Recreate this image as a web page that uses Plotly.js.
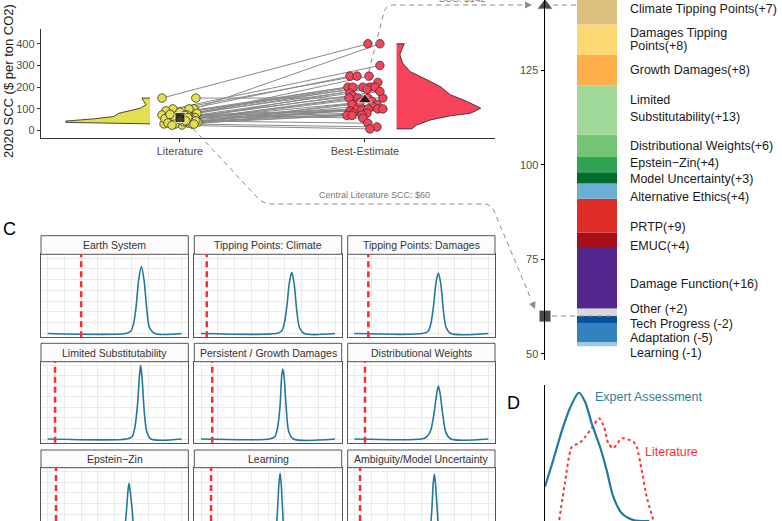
<!DOCTYPE html>
<html><head><meta charset="utf-8">
<script src="https://cdn.plot.ly/plotly-3.0.1.min.js"></script>
<style>html,body{margin:0;padding:0;background:#fff}#chart{width:782px;height:521px}</style>
</head><body><div id="chart"></div>
<script>
// ================= DATA =================
// Panel A: literature vs best-estimate SCC (paired)
const categories = ['Literature', 'Best-Estimate'];
const litSCC  = [150,100,150,100,100,91,80,72,72,70,72,85,60,65,55,52,55,52,45,40,40,35,31,26,30,60,70,50,45,65,55,40,35,30,60,75,45,30,25,50];
const litJitter = [-0.097,0.076,0.086,-0.038,0.049,-0.076,0.092,-0.097,-0.049,-0.016,0.038,0,0.081,-0.065,0.016,-0.07,-0.038,0.065,-0.016,-0.049,0.097,0.043,-0.086,0.011,0.065,-0.027,0.027,0.054,0.086,0.011,-0.081,0.022,-0.065,-0.027,0.043,-0.054,0.032,0.076,-0.043,0];
const bestSCC = [400,400,150,300,251,251,251,222,200,200,200,200,200,190,180,172,160,150,150,150,135,120,120,110,100,100,100,100,100,90,80,80,72,70,70,57,34,17,8,130];
const bestJitter = [0.016,0.081,0.097,0.081,-0.081,-0.043,0.022,0.07,-0.092,-0.065,-0.011,0.027,0.054,0.011,0.081,-0.081,-0.065,-0.086,-0.038,0.016,0.038,-0.07,0.065,0.043,-0.043,-0.016,0.016,0.07,0.097,-0.081,-0.065,0.011,-0.016,-0.097,-0.07,-0.011,0.016,0.065,0.027,-0.027];
const litCentral = 60;
const bestCentral = 142;
const litViolinSCC = [150,139,119,103,91,80,65,54,44,38,31];
const litViolinDensity = [0.094,0.082,0.047,0.118,0.27,0.37,0.43,0.67,1.0,1.0,0.0];
const bestViolinSCC = [400,372,349,311,272,242,203,165,134,103,80,68,49,26,11,8];
const bestViolinDensity = [0.092,0.06,0.04,0.072,0.16,0.32,0.52,0.64,0.84,1.0,0.88,0.64,0.40,0.24,0.18,0.18];

// Panel B: decomposition (bottom-up positives, then top-down negatives)
const posLabels = ['Other (+2)','Damage Function(+16)','EMUC(+4)','PRTP(+9)','Alternative Ethics(+4)','Model Uncertainty(+3)','Epstein\u2212Zin(+4)','Distributional Weights(+6)','Limited\nSubstitutability(+13)','Growth Damages(+8)','Damages Tipping\nPoints(+8)','Climate Tipping Points(+7)'];
const posValues = [2,16,4,9,4,3,4,6,13,8,8,7];
const negLabels = ['Tech Progress (-2)','Adaptation (-5)','Learning (-1)'];
const negValues = [-2,-5,-1];
const bTicks = [50,75,100,125];

// Panel C: facets
const facetNames = ['Earth System','Tipping Points: Climate','Tipping Points: Damages','Limited Substitutability','Persistent / Growth Damages','Distributional Weights','Epstein\u2212Zin','Learning','Ambiguity/Model Uncertainty'];
const facetLiterature = [25,4.3,10.4,5.5,8.4,7.9,6.2,7.5,4.2];
const densityX = [
  [0,58,62,64,66,68,70,72,74,76,80,100],
  [0,56,60,62,64,66,67.7,69.5,71.5,73.5,77,100],
  [0,51,55,57,59,61,62.7,64.5,66.5,68.5,72,100],
  [0,59,63,65,67,68.5,69.4,70.5,72,74,77,100],
  [0,51,55,57,59,60.2,61,62,63.5,65.5,69,100],
  [0,50,54,57,59.5,61.5,62.7,64,66,68.5,72,100],
  [0,50,54,56.5,58.5,60,60.7,61.5,63,65,68,100],
  [0,50,53,55.5,57,58.2,59,59.8,61,62.5,66,100],
  [0,50,53.5,56,57.7,58.9,59.7,60.5,62,63.8,67,100]
];
const densityY = [
  [0,0,3,12,35,72,88.6,70,32,8,0,0],
  [0,0,3,12,35,68,81,66,30,8,0,0],
  [0,0,3,12,35,68,80,66,30,8,0,0],
  [0,0,3,15,45,85,100,82,40,10,0,0],
  [0,0,3,14,45,85,95,85,45,10,0,0],
  [0,0,3,12,35,62,72,62,33,8,0,0],
  [0,0,3,12,40,75,84,75,50,12,0,0],
  [0,0,3,14,45,85,97.5,85,45,10,0,0],
  [0,0,3,14,45,85,96,85,45,10,0,0]
];

// Panel D: distributions
const expertX = [0,3.5,7.0,10.5,14.3,16.9,19.7,23.2,26.0,28.8,32.4,37.3,44];
const expertY = [25.2,44.9,65.7,82.9,94.3,87.7,71.8,54.6,37.5,17.9,5.7,0.7,0];
const litDensX = [6.0,8.4,11.3,14.8,16.9,19.7,22.8,24.9,26.7,28.8,32.4,37.3,38.7,40.8,42.9,45.7];
const litDensY = [0.7,27.7,54.6,57.6,61.8,68.2,75.5,69.3,57.1,53.5,60.8,58.3,54.6,37.5,17.9,0.7];

// ================= STYLE / LAYOUT =================
const W = 782, H = 521;
const px = p => p / W;
const py = p => 1 - p / H;
const P = (x, y) => px(x) + ',' + py(y);
const FONT = 'Liberation Sans, Arial, Helvetica, sans-serif';
const TICKC = '#4d4d4d';
const YEL = '#e3df4f', RED = '#f7435a';

const traces = [];
const shapes = [];
const annotations = [];
const layout = {
  width: W, height: H, margin: {l:0, r:0, t:0, b:0, pad:0},
  paper_bgcolor: '#fff', plot_bgcolor: 'rgba(0,0,0,0)',
  showlegend: false, barmode: 'overlay', font: {family: FONT, color: '#222'},
  shapes: shapes, annotations: annotations
};
function note(o) {
  annotations.push(Object.assign({xref:'paper', yref:'paper', showarrow:false,
    xanchor:'center', yanchor:'middle'}, o));
}

// ---------- Panel A ----------
layout.xaxis = {domain:[px(41), px(495)], range:[0.249, 2.703], anchor:'y',
  tickvals:[1,2], ticktext:categories, showline:true, linecolor:'#333', linewidth:1.2,
  ticks:'outside', ticklen:3, tickcolor:'#333', tickfont:{size:11, color:TICKC},
  showgrid:false, zeroline:false, fixedrange:true};
layout.yaxis = {domain:[py(138), py(29)], range:[-34, 468], anchor:'x',
  tickvals:[0,100,200,300,400], showline:true, linecolor:'#333', linewidth:1.2,
  ticks:'outside', ticklen:3, tickcolor:'#333', tickfont:{size:11, color:TICKC},
  showgrid:false, zeroline:false, fixedrange:true};

const litBase = 0.838, bestBase = 2.171, densScale = 0.455;
traces.push({type:'scatter', mode:'lines', xaxis:'x', yaxis:'y',
  x:[litBase].concat(litViolinDensity.map(d => litBase - d*densScale)),
  y:[litViolinSCC[0]].concat(litViolinSCC),
  fill:'toself', fillcolor:YEL, line:{color:'#333', width:0.9}, hoverinfo:'skip'});
traces.push({type:'scatter', mode:'lines', xaxis:'x', yaxis:'y',
  x:[bestBase].concat(bestViolinDensity.map(d => bestBase + d*densScale), [bestBase]),
  y:[bestViolinSCC[0]].concat(bestViolinSCC, [bestViolinSCC[bestViolinSCC.length-1]]),
  fill:'toself', fillcolor:RED, line:{color:'#333', width:0.9}, hoverinfo:'skip'});

const lx = [], ly = [];
for (let i = 0; i < litSCC.length; i++) {
  lx.push(1 + litJitter[i], 2 + bestJitter[i], null);
  ly.push(litSCC[i], bestSCC[i], null);
}
traces.push({type:'scatter', mode:'lines', x:lx, y:ly, xaxis:'x', yaxis:'y',
  line:{color:'#8a8a8a', width:1}, hoverinfo:'skip'});
traces.push({type:'scatter', mode:'markers', xaxis:'x', yaxis:'y',
  x:litJitter.map(j => 1 + j), y:litSCC,
  marker:{color:YEL, size:8.5, line:{color:'#333', width:0.8}}, cliponaxis:false});
traces.push({type:'scatter', mode:'markers', xaxis:'x', yaxis:'y',
  x:bestJitter.map(j => 2 + j), y:bestSCC,
  marker:{color:RED, size:8.5, line:{color:'#333', width:0.8}}, cliponaxis:false});
traces.push({type:'scatter', mode:'markers', xaxis:'x', yaxis:'y',
  x:[1, 2], y:[litCentral, bestCentral],
  marker:{color:'#000', symbol:['square','triangle-up'], size:[10,12]}, cliponaxis:false});

note({x:px(9), y:py(81), text:'2020 SCC ($ per ton CO2)', textangle:-90,
  font:{size:13, color:'#1a1a1a'}});

// ---------- Panel B ----------
layout.xaxis2 = {domain:[px(545), 1], range:[0,1], anchor:'y2', visible:false, fixedrange:true};
layout.yaxis2 = {domain:[py(360), 1], range:[48.4, 143.5], anchor:'x2',
  tickvals:bTicks, showline:true, linecolor:'#000', linewidth:1.5,
  ticks:'outside', ticklen:3, tickcolor:'#000', tickfont:{size:11, color:TICKC},
  showgrid:false, zeroline:false, fixedrange:true};

const posColors = ['#d9d9d9','#54278f','#a50f15','#de2d26','#6baed6','#006d2c','#31a354','#74c476','#a1d99b','#fdae4b','#fdd874','#dcc07f'];
const negColors = ['#08519c','#3182bd','#9ecae1'];
const posNudge = [-3, 5.3, 5.7, 11, 5.7, 1, -1.7, 0, -1.2, 0, -0.5, -2];
const posLineGap = [0,0,0,0,0,0,0,0,17.3,0,12.5,0];
const negNudge = [4, 5, 8.7];
const barX = 0.2194, barW = 0.1688, labelX = px(628);

function addLabel(text, yVal, nudge, gap) {
  const lines = text.split('\n');
  const n = lines.length;
  lines.forEach((ln, k) => {
    const off = nudge + (k - (n - 1) / 2) * gap;
    annotations.push({xref:'paper', yref:'y2', x:labelX, y:yVal, yshift:-off,
      xanchor:'left', yanchor:'middle', text:ln, showarrow:false,
      font:{size:12.5, color:'#1a1a1a'}});
  });
}
let cum = litCentral;
posValues.forEach((v, i) => {
  traces.push({type:'bar', xaxis:'x2', yaxis:'y2', x:[barX], y:[v], base:[cum], width:barW,
    marker:{color:posColors[i], line:{width:0}}, hoverinfo:'skip'});
  addLabel(posLabels[i], cum + v / 2, posNudge[i], posLineGap[i]);
  cum += v;
});
let ncum = litCentral;
negValues.forEach((v, i) => {
  traces.push({type:'bar', xaxis:'x2', yaxis:'y2', x:[barX], y:[v], base:[ncum], width:barW,
    marker:{color:negColors[i], line:{width:0}}, hoverinfo:'skip'});
  addLabel(negLabels[i], ncum + v / 2, negNudge[i], 0);
  ncum += v;
});
traces.push({type:'scatter', mode:'markers', xaxis:'x2', yaxis:'y2',
  x:[0, 0], y:[bestCentral, litCentral],
  marker:{color:'#000', symbol:['triangle-up','square'], size:[14,12]}, cliponaxis:false});

// ---------- Connectors ----------
const dashLine = {color:'#8c8c8c', width:1, dash:'5px,4px'};
shapes.push({type:'path', xref:'paper', yref:'paper', line:dashLine,
  path:'M ' + P(362,98) + ' L ' + P(384,12) + ' Q ' + P(386,5) + ' ' + P(394,5) + ' L ' + P(527,5)});
shapes.push({type:'path', xref:'paper', yref:'paper', line:dashLine,
  path:'M ' + P(553,5) + ' L ' + P(577,5)});
shapes.push({type:'path', xref:'paper', yref:'paper', line:dashLine,
  path:'M ' + P(187,122) + ' L ' + P(256,196) + ' Q ' + P(262,204) + ' ' + P(272,204) + ' L ' + P(484,204) + ' Q ' + P(491,204) + ' ' + P(494,211) + ' L ' + P(531,299)});
shapes.push({type:'path', xref:'paper', yref:'paper', line:dashLine,
  path:'M ' + P(552,316) + ' L ' + P(617,316)});
annotations.push({xref:'paper', yref:'paper', x:px(532), y:py(5), ax:-8, ay:0, text:'',
  showarrow:true, arrowhead:2, arrowsize:1.4, arrowwidth:1, arrowcolor:'#8c8c8c', standoff:0});
annotations.push({xref:'paper', yref:'paper', x:px(535), y:py(309), ax:-3.1, ay:-7.4, text:'',
  showarrow:true, arrowhead:2, arrowsize:1.4, arrowwidth:1, arrowcolor:'#8c8c8c', standoff:0});
note({x:px(462), y:py(-1), text:'SCC: $142', font:{size:9.5, color:'#777'}});
note({x:px(374), y:py(195), text:'Central Literature SCC: $60', font:{size:9, color:'#777'}});

// ---------- Panel C ----------
note({x:px(9), y:py(229), text:'C', font:{size:18, color:'#000'}});
const cols = [[41,188.3],[194.3,341.7],[347.7,495]];
const rows = [
  {strip:[235.7,254.3], panel:[254.3,337.3], yr:[-5,105]},
  {strip:[343.3,361.7], panel:[361.7,442.7], yr:[-5,105]},
  {strip:[450,467.7],   panel:[467.7,521],   yr:[33.5,105]}
];
facetNames.forEach((name, k) => {
  const c = cols[k % 3], r = rows[Math.floor(k / 3)];
  const n = k + 3;
  layout['xaxis' + n] = {domain:[px(c[0]), px(c[1])], range:[-5,105], anchor:'y' + n,
    showline:true, mirror:true, linecolor:'#555', linewidth:1,
    showgrid:true, gridcolor:'#ebebeb', gridwidth:1, tick0:0, dtick:12.5,
    ticks:'', showticklabels:false, zeroline:false, fixedrange:true};
  layout['yaxis' + n] = {domain:[py(r.panel[1]), py(r.panel[0])], range:r.yr, anchor:'x' + n,
    showline:true, mirror:true, linecolor:'#555', linewidth:1,
    showgrid:true, gridcolor:'#ebebeb', gridwidth:1, tick0:0, dtick:100/7,
    ticks:'', showticklabels:false, zeroline:false, fixedrange:true};
  shapes.push({type:'rect', xref:'paper', yref:'paper', x0:px(c[0]), x1:px(c[1]),
    y0:py(r.strip[1]), y1:py(r.strip[0]), fillcolor:'#fbfbfb', line:{color:'#555', width:1}});
  note({x:px((c[0] + c[1]) / 2), y:py((r.strip[0] + r.strip[1]) / 2),
    text:name, font:{size:10.5, color:'#333'}});
  traces.push({type:'scatter', mode:'lines', xaxis:'x' + n, yaxis:'y' + n,
    x:densityX[k], y:densityY[k], line:{color:'#23789c', width:1.6, shape:'spline', smoothing:0.8},
    hoverinfo:'skip'});
  shapes.push({type:'line', xref:'x' + n, yref:'y' + n + ' domain',
    x0:facetLiterature[k], x1:facetLiterature[k], y0:0, y1:1,
    line:{color:'#ff2a2a', width:2.5, dash:'6px,4px'}});
});

// ---------- Panel D ----------
note({x:px(513), y:py(403), text:'D', font:{size:18, color:'#000'}});
layout.xaxis12 = {domain:[px(545), 1], range:[0,100], anchor:'y12', visible:false, fixedrange:true};
layout.yaxis12 = {domain:[0, py(385)], range:[0,100], anchor:'x12', showline:true,
  linecolor:'#000', linewidth:1.5, ticks:'', showticklabels:false, showgrid:false,
  zeroline:false, fixedrange:true};
traces.push({type:'scatter', mode:'lines', xaxis:'x12', yaxis:'y12', x:litDensX, y:litDensY,
  line:{color:'#ff3333', width:2, dash:'3px,3px', shape:'spline', smoothing:0.6}, hoverinfo:'skip'});
traces.push({type:'scatter', mode:'lines', xaxis:'x12', yaxis:'y12', x:expertX, y:expertY,
  line:{color:'#1f7a9c', width:2.2, shape:'spline', smoothing:0.8}, hoverinfo:'skip'});
note({x:px(593), y:py(397), xanchor:'left', text:'Expert Assessment', font:{size:12.5, color:'#2b7fa0'}});
note({x:px(643), y:py(452), xanchor:'left', text:'Literature', font:{size:12.5, color:'#ff3333'}});

Plotly.newPlot('chart', traces, layout, {displayModeBar:false, staticPlot:true});
</script>
</body></html>
